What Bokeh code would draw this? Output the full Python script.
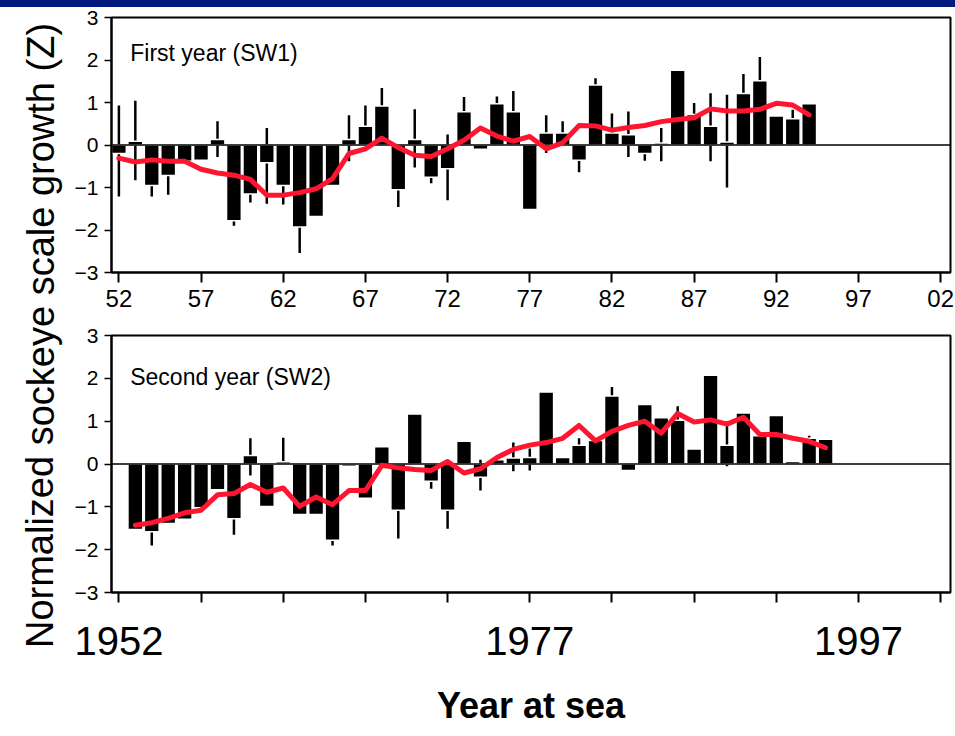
from bokeh.plotting import figure
from bokeh.layouts import column, row
from bokeh.models import Label, Span, FixedTicker, Range1d, Div
from bokeh.embed import file_html
from bokeh.resources import INLINE

# ---------------- data ----------------
years_sw1 = list(range(1952, 1995))
sw1 = [-0.20, 0.09, -0.95, -0.72, -0.38, -0.36, 0.13, -1.78, -1.15, -0.42,
       -0.95, -1.93, -1.68, -0.95, 0.13, 0.44, 0.92, -1.05, 0.13, -0.76,
       -0.56, 0.78, -0.10, 0.97, 0.78, -1.52, 0.28, 0.28, -0.36, 1.41,
       0.28, 0.24, -0.20, 0.05, 1.76, 0.72, 0.44, 0.07, 1.21, 1.51,
       0.68, 0.62, 0.97]
sw1_lo = [-1.21, -0.83, -1.21, -1.17, -0.38, -0.36, -0.28, -1.90, -1.35, -1.38,
          -1.40, -2.54, -1.68, -0.95, -0.38, 0.44, 0.92, -1.46, -0.53, -0.90,
          -1.30, 0.78, -0.10, 0.97, 0.78, -1.52, -0.19, 0.28, -0.64, 1.41,
          0.28, -0.28, -0.37, -0.38, 1.76, 0.72, -0.38, -1.00, 1.21, 1.51,
          0.68, 0.62, 0.97]
sw1_hi = [0.93, 1.04, -0.95, -0.72, -0.38, -0.36, 0.56, -1.78, -1.15, 0.40,
          -0.95, -1.93, -1.68, -0.95, 0.70, 0.93, 1.34, -1.05, 0.84, -0.76,
          0.25, 1.13, -0.10, 1.14, 1.27, -1.52, 0.70, 0.56, -0.36, 1.57,
          0.74, 0.79, -0.20, 0.40, 1.76, 0.99, 1.22, 1.18, 1.67, 2.07,
          0.68, 0.83, 0.97]
sw1_mean = [-0.31, -0.40, -0.35, -0.38, -0.38, -0.57, -0.66, -0.71, -0.81, -1.18,
            -1.18, -1.12, -1.03, -0.79, -0.20, -0.09, 0.16, -0.06, -0.24, -0.27,
            -0.09, 0.11, 0.40, 0.21, 0.09, 0.20, -0.09, 0.05, 0.46, 0.45,
            0.35, 0.41, 0.46, 0.55, 0.60, 0.64, 0.85, 0.80, 0.80, 0.84,
            0.98, 0.94, 0.71]

years_sw2 = list(range(1953, 1996))
sw2 = [-1.53, -1.58, -1.39, -1.29, -1.02, -0.60, -1.28, 0.20, -0.99, 0.05,
       -1.18, -1.18, -1.78, -0.05, -0.80, 0.40, -1.08, 1.17, -0.40, -1.08,
       0.53, -0.31, 0.10, 0.14, 0.15, 1.68, 0.15, 0.44, 0.55, 1.59,
       -0.15, 1.39, 1.08, 1.02, 0.35, 2.07, 0.44, 1.19, 0.66, 1.13,
       0.06, 0.60, 0.58]
sw2_lo = [-1.53, -1.90, -1.39, -1.29, -1.02, -0.60, -1.65, -0.27, -0.99, 0.05,
          -1.18, -1.18, -1.90, -0.05, -0.80, 0.40, -1.74, 1.17, -0.58, -1.51,
          0.53, -0.62, 0.10, -0.17, -0.15, 1.68, 0.15, 0.44, 0.55, 1.59,
          -0.15, 1.39, 1.08, 1.02, 0.35, 2.07, -0.05, 1.19, 0.66, 1.13,
          0.06, 0.60, 0.58]
sw2_hi = [-1.53, -1.58, -1.39, -1.29, -1.02, -0.60, -1.28, 0.60, -0.99, 0.61,
          -1.18, -1.18, -1.78, -0.05, -0.80, 0.40, -1.08, 1.17, -0.40, -1.08,
          0.53, 0.10, 0.10, 0.50, 0.36, 1.68, 0.15, 0.60, 0.55, 1.80,
          -0.15, 1.39, 1.08, 1.35, 0.35, 2.07, 1.00, 1.19, 0.66, 1.13,
          0.06, 0.66, 0.58]
sw2_mean = [-1.43, -1.37, -1.27, -1.14, -1.08, -0.72, -0.69, -0.48, -0.66, -0.56,
            -0.99, -0.77, -0.95, -0.62, -0.62, -0.03, -0.09, -0.13, -0.15, 0.06,
            -0.21, -0.11, 0.15, 0.34, 0.44, 0.50, 0.60, 0.90, 0.54, 0.76,
            0.90, 1.00, 0.72, 1.18, 0.98, 1.03, 0.93, 1.09, 0.69, 0.69,
            0.60, 0.53, 0.38]

x_ticks = list(range(1952, 2003, 5))
y_ticks = [-3, -2, -1, 0, 1, 2, 3]
top_tick_labels = {t: "%02d" % (t % 100) for t in x_ticks}
bottom_tick_labels = {t: (str(t) if t in (1952, 1977, 1997) else "") for t in x_ticks}

FONT = "Liberation Sans"
NAVY = "#021A7D"
RED = "#FF1530"


def panel(height, b_top, b_bottom, years, vals, lo, hi, mean, title, title_y):
    p = figure(width=885, height=height, x_range=Range1d(1951.55, 2002.6),
               y_range=Range1d(-3, 3), output_backend="svg", toolbar_location=None,
               min_border_left=41, min_border_right=5, min_border_top=b_top,
               min_border_bottom=b_bottom)
    p.grid.visible = False
    p.outline_line_color = "black"
    p.outline_line_width = 2
    p.background_fill_color = "white"
    p.border_fill_color = "white"

    ya = p.yaxis[0]
    ya.ticker = FixedTicker(ticks=y_ticks)
    ya.major_tick_in = 0
    ya.major_tick_out = 7
    ya.minor_tick_line_color = None
    ya.axis_line_width = 2
    ya.major_tick_line_width = 1.5
    ya.major_label_text_font = FONT
    ya.major_label_text_font_size = "21px"
    ya.major_label_text_color = "black"
    ya.major_label_standoff = 6

    xa = p.xaxis[0]
    xa.ticker = FixedTicker(ticks=x_ticks)
    xa.major_tick_in = 0
    xa.major_tick_out = 10
    xa.minor_tick_line_color = None
    xa.axis_line_width = 2
    xa.major_tick_line_width = 2
    xa.major_label_text_color = "black"

    p.segment(x0=years, y0=lo, x1=years, y1=hi, line_color="black", line_width=2.5)
    p.vbar(x=years, top=vals, bottom=0, width=0.9, fill_color="black",
           line_color="white", line_width=1.5)
    p.add_layout(Span(location=0, dimension="width", line_color="black", line_width=1.5))
    p.line(years, mean, line_color=RED, line_width=5, line_join="round",
           line_cap="round", level="overlay")
    p.add_layout(Label(x=1952.69, y=title_y, text=title, text_font=FONT,
                       text_font_size="23px", text_color="black",
                       text_baseline="alphabetic", text_align="left"))
    return p


top = panel(315, 10, 50, years_sw1, sw1, sw1_lo, sw1_hi, sw1_mean,
            "First year (SW1)", 2.16)
top.xaxis[0].major_label_overrides = top_tick_labels
top.xaxis[0].major_label_text_font = FONT
top.xaxis[0].major_label_text_font_size = "24px"
top.xaxis[0].major_label_standoff = 7

bottom = panel(414, 13, 144, years_sw2, sw2, sw2_lo, sw2_hi, sw2_mean,
               "Second year (SW2)", 2.04)
bx = bottom.xaxis[0]
bx.major_label_overrides = bottom_tick_labels
bx.major_label_text_font = FONT
bx.major_label_text_font_size = "40px"
bx.major_label_standoff = 24
bx.axis_label = "Year at sea"
bx.axis_label_text_font = FONT
bx.axis_label_text_font_style = "bold"
bx.axis_label_text_font_size = "36px"
bx.axis_label_text_color = "black"
bx.axis_label_standoff = 27

# left label strip
lab = figure(width=70, height=729, x_range=Range1d(0, 70), y_range=Range1d(0, 729),
             output_backend="svg", toolbar_location=None, x_axis_location=None,
             y_axis_location=None, min_border=0)
lab.grid.visible = False
lab.outline_line_color = None
lab.add_layout(Label(x=40, y=401, text="Normalized sockeye scale growth (Z)",
                     angle=1.5707963, text_font=FONT, text_font_size="38px",
                     text_color="black", text_align="center",
                     text_baseline="alphabetic"))

# navy header strip
head = Div(text="", width=955, height=7, margin=(0, 0, 0, 0),
           styles={"background-color": NAVY})

layout = column(head, row(lab, column(top, bottom)))
open("out.html", "w").write(file_html(layout, INLINE))
